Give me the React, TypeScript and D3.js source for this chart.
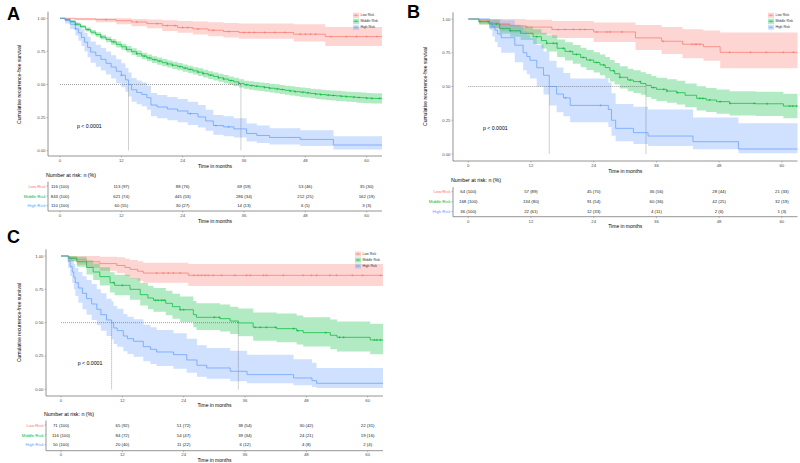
import React from "react";
import * as d3 from "d3";

const groups = ["Low Risk", "Middle Risk", "High Risk"];
const colors = ["#F8766D", "#00BA38", "#619CFF"];
const xTicks = [0, 12, 24, 36, 48, 60];
const yTicks = [0, 0.25, 0.5, 0.75, 1];

// rows: [time, survival, lower CI, upper CI]
const aLow = [
  [0, 1, 1, 1], [3, 0.995, 0.985, 1], [7, 0.99, 0.97, 1], [11, 0.982, 0.955, 1],
  [14, 0.972, 0.94, 0.995], [17, 0.96, 0.925, 0.99], [20, 0.945, 0.905, 0.985],
  [23, 0.93, 0.89, 0.98], [26, 0.92, 0.878, 0.975], [29, 0.91, 0.865, 0.97],
  [32, 0.9, 0.855, 0.965], [35, 0.893, 0.845, 0.96], [45.7, 0.88, 0.825, 0.955],
  [51.9, 0.862, 0.79, 0.935], [63, 0.862, 0.79, 0.935],
];
const aMid = [
  [0, 1, 1, 1], [1, 0.99, 0.983, 0.997], [2, 0.975, 0.965, 0.985], [3, 0.955, 0.944, 0.966],
  [4, 0.937, 0.924, 0.95], [5, 0.915, 0.9, 0.93], [6, 0.895, 0.878, 0.912],
  [7, 0.877, 0.86, 0.895], [8, 0.858, 0.84, 0.876], [9, 0.84, 0.82, 0.86],
  [10, 0.822, 0.8, 0.844], [11, 0.803, 0.78, 0.826], [12, 0.785, 0.762, 0.808],
  [13, 0.765, 0.742, 0.79], [14, 0.748, 0.723, 0.773], [15, 0.732, 0.707, 0.757],
  [16, 0.715, 0.69, 0.74], [17, 0.7, 0.675, 0.726], [18, 0.688, 0.662, 0.714],
  [19, 0.677, 0.65, 0.703], [20, 0.665, 0.638, 0.692], [21, 0.655, 0.628, 0.682],
  [22, 0.645, 0.618, 0.672], [23, 0.635, 0.607, 0.663], [24, 0.624, 0.596, 0.652],
  [25, 0.614, 0.586, 0.642], [26, 0.603, 0.575, 0.631], [27, 0.593, 0.564, 0.622],
  [28, 0.582, 0.553, 0.611], [29, 0.571, 0.542, 0.6], [30, 0.561, 0.531, 0.591],
  [31, 0.551, 0.521, 0.581], [32, 0.541, 0.51, 0.572], [33, 0.53, 0.499, 0.561],
  [34, 0.52, 0.489, 0.551], [35, 0.508, 0.477, 0.539], [36, 0.498, 0.467, 0.529],
  [37, 0.492, 0.46, 0.524], [38, 0.487, 0.455, 0.519], [39, 0.483, 0.45, 0.516],
  [40, 0.478, 0.445, 0.511], [41, 0.472, 0.439, 0.505], [42, 0.467, 0.433, 0.501],
  [43, 0.462, 0.428, 0.496], [44, 0.456, 0.422, 0.49], [45, 0.451, 0.416, 0.486],
  [46, 0.446, 0.411, 0.481], [47, 0.442, 0.406, 0.478], [48, 0.437, 0.401, 0.473],
  [49, 0.432, 0.396, 0.468], [50, 0.428, 0.391, 0.465], [51, 0.424, 0.387, 0.461],
  [52, 0.42, 0.383, 0.457], [53, 0.417, 0.379, 0.455], [54, 0.414, 0.376, 0.452],
  [55, 0.411, 0.373, 0.449], [56, 0.408, 0.37, 0.446], [57, 0.405, 0.367, 0.443],
  [58, 0.402, 0.363, 0.441], [59, 0.4, 0.361, 0.439], [60, 0.397, 0.358, 0.436],
  [61, 0.395, 0.356, 0.434], [63, 0.395, 0.356, 0.434],
];
const aHigh = [
  [0, 1, 1, 1], [1, 0.982, 0.96, 1], [2, 0.955, 0.92, 0.99], [3, 0.92, 0.87, 0.97],
  [3.6, 0.89, 0.83, 0.95], [4.2, 0.855, 0.79, 0.92], [4.8, 0.82, 0.75, 0.89],
  [5.4, 0.78, 0.705, 0.86], [6, 0.745, 0.665, 0.825], [7, 0.718, 0.635, 0.8],
  [8, 0.69, 0.605, 0.775], [9, 0.66, 0.575, 0.75], [10, 0.632, 0.545, 0.72],
  [11, 0.6, 0.51, 0.69], [12, 0.57, 0.48, 0.66], [12.8, 0.535, 0.445, 0.625],
  [13.4, 0.5, 0.41, 0.59], [14, 0.46, 0.37, 0.55], [15, 0.44, 0.35, 0.53],
  [16, 0.425, 0.335, 0.515], [17, 0.4, 0.31, 0.49], [17.8, 0.345, 0.26, 0.435],
  [19, 0.33, 0.245, 0.42], [21, 0.315, 0.23, 0.405], [23, 0.3, 0.215, 0.39],
  [25, 0.28, 0.195, 0.37], [27, 0.255, 0.175, 0.345], [28.5, 0.225, 0.15, 0.31],
  [30, 0.19, 0.12, 0.27], [32, 0.18, 0.11, 0.26], [34, 0.165, 0.1, 0.245],
  [36.5, 0.13, 0.07, 0.205], [38.5, 0.115, 0.058, 0.19], [41, 0.1, 0.046, 0.17],
  [47, 0.085, 0.035, 0.155], [53.5, 0.043, 0.01, 0.11], [63, 0.043, 0.01, 0.11],
];
const aCensLow = [9, 15, 19, 21, 22.5, 24, 25, 27, 30, 33, 36, 37, 38, 40, 42, 44, 47, 48, 49, 50, 53, 56, 58, 60, 62];
const aCensMid = [3, 5.5, 8, 10.5, 13, 15, 16.5, 17.5, 18.5, 19.5, 21, 22, 23.5, 24.5, 25.5, 27, 28, 29.5, 31, 32, 33.5, 35, 36.5, 37.5, 38.5, 40, 41, 42.5, 43.5, 45, 46, 47.5, 48.5, 50, 51, 52.5, 53.5, 55, 56, 57.5, 58.5, 60, 61, 62.5];
const aCensHigh = [3, 12, 25.5, 30.5, 33];
const aRiskLow = ["116 (100)", "113 (97)", "88 (76)", "69 (59)", "53 (46)", "35 (30)"];
const aRiskMid = ["843 (100)", "621 (74)", "445 (53)", "286 (34)", "212 (25)", "162 (19)"];
const aRiskHigh = ["110 (100)", "60 (55)", "30 (27)", "14 (13)", "6 (5)", "3 (3)"];
const aMedians = [13.4, 35.4];

const bLow = [
  [0, 1, 1, 1], [2.2, 0.985, 0.96, 1], [4, 0.97, 0.93, 1], [6, 0.958, 0.91, 1],
  [8, 0.95, 0.9, 1], [11, 0.94, 0.885, 0.995], [16, 0.922, 0.86, 0.985],
  [24, 0.904, 0.83, 0.975], [32, 0.86, 0.77, 0.955], [37, 0.835, 0.74, 0.94],
  [41, 0.813, 0.71, 0.925], [45, 0.795, 0.69, 0.915], [48.2, 0.753, 0.635, 0.9],
  [63, 0.753, 0.635, 0.9],
];
const bMid = [
  [0, 1, 1, 1], [2, 0.98, 0.96, 1], [4, 0.963, 0.933, 0.993], [6, 0.93, 0.89, 0.97],
  [8, 0.913, 0.868, 0.958], [10, 0.894, 0.844, 0.944], [12.4, 0.869, 0.814, 0.924],
  [14, 0.84, 0.782, 0.898], [15, 0.82, 0.76, 0.88], [17, 0.783, 0.718, 0.848],
  [18.5, 0.76, 0.692, 0.828], [20, 0.738, 0.668, 0.808], [21.5, 0.715, 0.643, 0.787],
  [22.6, 0.696, 0.622, 0.77], [24, 0.678, 0.603, 0.753], [25.2, 0.66, 0.583, 0.737],
  [26.2, 0.64, 0.562, 0.718], [27.1, 0.617, 0.537, 0.697], [28, 0.595, 0.515, 0.675],
  [29, 0.568, 0.486, 0.65], [30.5, 0.548, 0.465, 0.631], [31.6, 0.536, 0.452, 0.62],
  [33, 0.522, 0.438, 0.606], [34, 0.508, 0.423, 0.593], [35, 0.492, 0.407, 0.577],
  [36, 0.479, 0.393, 0.565], [38, 0.466, 0.379, 0.553], [39.9, 0.454, 0.366, 0.542],
  [41.5, 0.435, 0.347, 0.523], [43.7, 0.412, 0.323, 0.501], [45.5, 0.4, 0.311, 0.489],
  [47.5, 0.388, 0.298, 0.478], [50, 0.375, 0.285, 0.465], [55, 0.372, 0.282, 0.462],
  [60.3, 0.355, 0.265, 0.447], [63, 0.355, 0.265, 0.447],
];
const bHigh = [
  [0, 1, 1, 1], [4.1, 0.972, 0.92, 1], [4.6, 0.944, 0.87, 1], [5.1, 0.917, 0.83, 1],
  [5.6, 0.889, 0.79, 1], [6.3, 0.861, 0.75, 0.99], [8.9, 0.806, 0.68, 0.95],
  [10.5, 0.75, 0.62, 0.91], [11.2, 0.722, 0.59, 0.88], [11.8, 0.694, 0.56, 0.86],
  [13.1, 0.639, 0.5, 0.81], [14.4, 0.583, 0.44, 0.76], [15.5, 0.5, 0.36, 0.69],
  [16.9, 0.444, 0.31, 0.64], [18.2, 0.416, 0.28, 0.6], [19.5, 0.36, 0.235, 0.56],
  [26.8, 0.33, 0.2, 0.53], [27.4, 0.25, 0.135, 0.45], [28.2, 0.19, 0.095, 0.37],
  [31.6, 0.158, 0.075, 0.35], [34.4, 0.133, 0.06, 0.33], [43, 0.091, 0.035, 0.27],
  [51.7, 0.037, 0.006, 0.227], [63, 0.037, 0.006, 0.227],
];
const bCensLow = [11.2, 17.2, 18.5, 20.1, 21.4, 22.3, 24.6, 26.5, 27.1, 29.4, 37.3, 42.8, 43.4, 43.7, 44.3, 50, 54, 57, 60.3, 62.2];
const bCensMid = [2.2, 3.8, 5.4, 8, 13.1, 15, 16.3, 16.9, 18.2, 19.5, 20.7, 22, 23.3, 24.6, 25.9, 27.8, 29, 31, 32.9, 35.4, 37.4, 38, 40, 44.3, 44.9, 46.2, 48.2, 50.1, 54.7, 57.2, 61.5, 62.1, 62.8];
const bCensHigh = [18.6, 25.3];
const bRiskLow = ["64 (100)", "57 (89)", "45 (70)", "36 (56)", "28 (44)", "21 (33)"];
const bRiskMid = ["168 (100)", "134 (80)", "91 (54)", "60 (36)", "42 (25)", "32 (19)"];
const bRiskHigh = ["36 (100)", "22 (61)", "12 (33)", "4 (11)", "2 (6)", "1 (3)"];
const bMedians = [15.5, 34.0];

const cLow = [
  [0, 1, 1, 1], [1.5, 0.986, 0.96, 1], [3.1, 0.972, 0.935, 1], [5, 0.957, 0.91, 1],
  [7.6, 0.943, 0.89, 0.995], [10.9, 0.929, 0.87, 0.99], [12.5, 0.914, 0.85, 0.98],
  [13.5, 0.9, 0.83, 0.97], [15, 0.886, 0.815, 0.96], [16.1, 0.872, 0.8, 0.95],
  [24.9, 0.855, 0.775, 0.94], [63, 0.855, 0.775, 0.94],
];
const cMid = [
  [0, 1, 1, 1], [1.5, 0.983, 0.96, 1], [3.1, 0.957, 0.92, 0.995], [5, 0.914, 0.862, 0.968],
  [6.3, 0.88, 0.82, 0.944], [7.6, 0.845, 0.778, 0.915], [9.6, 0.8, 0.727, 0.878],
  [10.5, 0.78, 0.705, 0.86], [13.5, 0.75, 0.672, 0.834], [15.5, 0.71, 0.628, 0.798],
  [17, 0.685, 0.6, 0.776], [18.1, 0.668, 0.582, 0.76], [20.5, 0.645, 0.556, 0.74],
  [21.8, 0.62, 0.53, 0.717], [23.3, 0.597, 0.505, 0.696], [25.9, 0.56, 0.465, 0.663],
  [26.5, 0.54, 0.444, 0.645], [31.1, 0.53, 0.433, 0.636], [33.1, 0.512, 0.414, 0.62],
  [34.7, 0.498, 0.398, 0.607], [37.6, 0.465, 0.364, 0.577], [42.2, 0.455, 0.353, 0.568],
  [46.1, 0.44, 0.337, 0.554], [47.4, 0.425, 0.321, 0.541], [52.7, 0.405, 0.3, 0.523],
  [54, 0.39, 0.284, 0.509], [60.5, 0.37, 0.263, 0.492], [63, 0.37, 0.263, 0.492],
];
const cHigh = [
  [0, 1, 1, 1], [1.4, 0.96, 0.91, 1], [1.8, 0.92, 0.85, 0.99], [2.2, 0.88, 0.8, 0.97],
  [2.5, 0.84, 0.75, 0.94], [2.8, 0.8, 0.7, 0.91], [3.4, 0.76, 0.65, 0.88],
  [4.2, 0.72, 0.6, 0.85], [5, 0.68, 0.56, 0.82], [6, 0.64, 0.52, 0.79],
  [7, 0.6, 0.48, 0.75], [7.8, 0.56, 0.44, 0.72], [8.9, 0.52, 0.4, 0.68],
  [9.9, 0.5, 0.375, 0.66], [10.3, 0.46, 0.34, 0.625], [11, 0.44, 0.32, 0.605],
  [12.2, 0.4, 0.285, 0.565], [13, 0.38, 0.265, 0.545], [14.2, 0.36, 0.245, 0.525],
  [16.1, 0.32, 0.21, 0.485], [17.5, 0.3, 0.19, 0.465], [18.7, 0.28, 0.175, 0.445],
  [22, 0.26, 0.155, 0.42], [24.6, 0.22, 0.125, 0.38], [26.6, 0.18, 0.095, 0.33],
  [28.5, 0.16, 0.08, 0.31], [33.1, 0.135, 0.06, 0.29], [36.4, 0.11, 0.045, 0.26],
  [45.5, 0.085, 0.03, 0.225], [49.1, 0.065, 0.018, 0.2], [50, 0.045, 0.01, 0.16],
  [63, 0.045, 0.01, 0.16],
];
const cCensLow = [18.7, 20, 21, 22, 23.3, 26, 26.8, 27.5, 28.2, 28.8, 29.8, 31.4, 34, 36.3, 37, 39.6, 40.2, 43.5, 47.4, 49, 50, 52.6, 53.9, 57, 59, 62.5];
const cCensMid = [10.3, 12, 18.5, 19, 19.7, 20.2, 23.3, 24, 30, 31, 38, 39, 40.2, 42, 45.5, 46.3, 51.8, 54.5, 55.3, 61.3, 61.8, 62.5];
const cCensHigh: number[] = [];
const cRiskLow = ["71 (100)", "65 (92)", "51 (72)", "38 (54)", "30 (42)", "22 (31)"];
const cRiskMid = ["116 (100)", "84 (72)", "54 (47)", "39 (34)", "24 (21)", "19 (16)"];
const cRiskHigh = ["50 (100)", "20 (40)", "11 (22)", "6 (12)", "4 (8)", "2 (4)"];
const cMedians = [9.9, 34.7];

const FONT = "'Liberation Sans', Arial, sans-serif";

type Layout = {
  label: string; labX: number; labY: number; axX: number; x0: number; x1: number;
  yTop: number; yBot: number; axY: number; tickY: number; titleY: number; nrY: number;
  rows: number[]; tabAxY: number; tabTickY: number; tabTitleY: number;
  legX: number; legY: number; pX: number; pY: number; ylabX: number;
};

const layoutA: Layout = { label: "A", labX: 7, labY: 20, axX: 48, x0: 60, x1: 382, yTop: 18.3, yBot: 150.7, axY: 156, tickY: 160.7, titleY: 165.7, nrY: 175, rows: [186, 196, 205.7], tabAxY: 211, tabTickY: 215.7, tabTitleY: 220.7, legX: 353, legY: 15.3, pX: 77, pY: 125.7, ylabX: 19 };
const layoutB: Layout = { label: "B", labX: 407, labY: 18, axX: 453, x0: 468.3, x1: 797.5, yTop: 19, yBot: 154, axY: 161, tickY: 165, titleY: 170.7, nrY: 180, rows: [191.7, 201.7, 211.3], tabAxY: 216.7, tabTickY: 221, tabTitleY: 226, legX: 768, legY: 15.3, pX: 483, pY: 127.7, ylabX: 425 };
const layoutC: Layout = { label: "C", labX: 7, labY: 243, axX: 46, x0: 61, x1: 383, yTop: 256, yBot: 389.3, axY: 396, tickY: 400, titleY: 405.3, nrY: 414, rows: [425, 435, 444.7], tabAxY: 450.7, tabTickY: 454.5, tabTitleY: 459.5, legX: 355, legY: 254, pX: 77.7, pY: 362.7, ylabX: 19 };

function survAt(c: number[][], t: number) {
  let s = 1;
  for (const p of c) if (p[0] <= t) s = p[1];
  return s;
}

function Panel({ L, curves, cens, risk, med }: { L: Layout; curves: number[][][]; cens: number[][]; risk: string[][]; med: number[] }) {
  const x = d3.scaleLinear().domain([0, 63]).range([L.x0, L.x1]);
  const y = d3.scaleLinear().domain([0, 1]).range([L.yBot, L.yTop]);
  const line = d3.line<number[]>().x((d) => x(d[0])).y((d) => y(d[1])).curve(d3.curveStepAfter);
  const area = d3.area<number[]>().x((d) => x(d[0])).y0((d) => y(d[2])).y1((d) => y(d[3])).curve(d3.curveStepAfter);
  const fmt = d3.format(".2f");
  const axisColor = "#7a7a7a";
  const tickText = "#4d4d4d";
  const yAxTop = y(1.05);
  const midY = (L.yTop + L.yBot) / 2;
  return (
    <g fontFamily={FONT}>
      <text x={L.labX} y={L.labY} fontSize={18} fontWeight="bold" fill="#000">{L.label}</text>
      {/* bands */}
      {curves.map((c, i) => (
        <path key={"b" + i} d={area(c) || ""} fill={colors[i]} fillOpacity={0.3} stroke="none" />
      ))}
      {/* median lines */}
      <line x1={x(0)} x2={x(med[1])} y1={y(0.5)} y2={y(0.5)} stroke="#444" strokeWidth={0.5} strokeDasharray="1,1" />
      {med.map((m, i) => (
        <line key={"m" + i} x1={x(m)} x2={x(m)} y1={y(0.5)} y2={y(0)} stroke="#444" strokeWidth={0.5} strokeDasharray="1,1" />
      ))}
      {/* lines */}
      {curves.map((c, i) => (
        <path key={"l" + i} d={line(c) || ""} fill="none" stroke={colors[i]} strokeWidth={0.7} />
      ))}
      {/* censor marks */}
      {cens.map((cs, i) =>
        cs.map((t, j) => {
          const cx = x(t);
          const cy = y(survAt(curves[i], t));
          return (
            <g key={"c" + i + "-" + j} stroke={colors[i]} strokeWidth={0.5}>
              <line x1={cx - 1.1} x2={cx + 1.1} y1={cy} y2={cy} />
              <line x1={cx} x2={cx} y1={cy - 1.1} y2={cy + 1.1} />
            </g>
          );
        })
      )}
      {/* axes */}
      <line x1={L.axX} x2={L.axX} y1={yAxTop} y2={L.axY} stroke={axisColor} strokeWidth={0.8} />
      <line x1={L.axX} x2={L.x1} y1={L.axY} y2={L.axY} stroke={axisColor} strokeWidth={0.8} />
      {yTicks.map((v) => (
        <g key={"yt" + v}>
          <line x1={L.axX - 1.5} x2={L.axX} y1={y(v)} y2={y(v)} stroke={axisColor} strokeWidth={0.5} />
          <text x={L.axX - 2.5} y={y(v)} fontSize={4.3} fill={tickText} textAnchor="end" dominantBaseline="central">{fmt(v)}</text>
        </g>
      ))}
      {xTicks.map((v) => (
        <g key={"xt" + v}>
          <line x1={x(v)} x2={x(v)} y1={L.axY} y2={L.axY + 1.5} stroke={axisColor} strokeWidth={0.5} />
          <text x={x(v)} y={L.tickY} fontSize={4.3} fill={tickText} textAnchor="middle" dominantBaseline="central">{v}</text>
        </g>
      ))}
      <text x={(L.axX + L.x1) / 2} y={L.titleY} fontSize={5} fill="#000" textAnchor="middle" dominantBaseline="central">Time in months</text>
      <text transform={`translate(${L.ylabX},${midY}) rotate(-90)`} fontSize={5} fill="#000" textAnchor="middle" dominantBaseline="central">Cumulative recurrence-free survival</text>
      <text x={L.pX} y={L.pY} fontSize={5.2} fill="#000" dominantBaseline="central">p &lt; 0.0001</text>
      {/* legend */}
      {groups.map((g, i) => {
        const ly = L.legY + i * 6;
        return (
          <g key={"lg" + i}>
            <rect x={L.legX} y={ly - 2.6} width={6} height={5.2} fill={colors[i]} fillOpacity={0.3} />
            <line x1={L.legX + 0.6} x2={L.legX + 5.4} y1={ly} y2={ly} stroke={colors[i]} strokeWidth={0.6} />
            <line x1={L.legX + 3} x2={L.legX + 3} y1={ly - 1.1} y2={ly + 1.1} stroke={colors[i]} strokeWidth={0.5} />
            <text x={L.legX + 7.5} y={ly} fontSize={3.4} fill="#333" dominantBaseline="central">{g}</text>
          </g>
        );
      })}
      {/* risk table */}
      <text x={L.axX - 2} y={L.nrY} fontSize={5.3} fill="#000" dominantBaseline="central">Number at risk: n (%)</text>
      <line x1={L.axX} x2={L.axX} y1={L.rows[0] - 4.5} y2={L.tabAxY} stroke={axisColor} strokeWidth={0.8} />
      <line x1={L.axX} x2={L.x1} y1={L.tabAxY} y2={L.tabAxY} stroke={axisColor} strokeWidth={0.8} />
      {groups.map((g, i) => (
        <g key={"r" + i}>
          <line x1={L.axX - 1.5} x2={L.axX} y1={L.rows[i]} y2={L.rows[i]} stroke={axisColor} strokeWidth={0.5} />
          <text x={L.axX - 2.5} y={L.rows[i]} fontSize={4.2} fill={colors[i]} textAnchor="end" dominantBaseline="central">{g}</text>
          {risk[i].map((v, j) => (
            <text key={j} x={x(xTicks[j])} y={L.rows[i]} fontSize={4.3} fill="#222" textAnchor="middle" dominantBaseline="central">{v}</text>
          ))}
        </g>
      ))}
      {xTicks.map((v) => (
        <g key={"tt" + v}>
          <line x1={x(v)} x2={x(v)} y1={L.tabAxY} y2={L.tabAxY + 1.5} stroke={axisColor} strokeWidth={0.5} />
          <text x={x(v)} y={L.tabTickY} fontSize={4.3} fill={tickText} textAnchor="middle" dominantBaseline="central">{v}</text>
        </g>
      ))}
      <text x={(L.axX + L.x1) / 2} y={L.tabTitleY} fontSize={5} fill="#000" textAnchor="middle" dominantBaseline="central">Time in months</text>
    </g>
  );
}

export default function App() {
  return (
    <div style={{ position: "fixed", left: 0, top: 0, width: 800, height: 463, background: "#fff" }}>
      <svg width={800} height={463} viewBox="0 0 800 463" style={{ display: "block" }}>
        <rect width={800} height={463} fill="#fff" />
        <Panel L={layoutA} curves={[aLow, aMid, aHigh]} cens={[aCensLow, aCensMid, aCensHigh]} risk={[aRiskLow, aRiskMid, aRiskHigh]} med={aMedians} />
        <Panel L={layoutB} curves={[bLow, bMid, bHigh]} cens={[bCensLow, bCensMid, bCensHigh]} risk={[bRiskLow, bRiskMid, bRiskHigh]} med={bMedians} />
        <Panel L={layoutC} curves={[cLow, cMid, cHigh]} cens={[cCensLow, cCensMid, cCensHigh]} risk={[cRiskLow, cRiskMid, cRiskHigh]} med={cMedians} />
      </svg>
    </div>
  );
}
